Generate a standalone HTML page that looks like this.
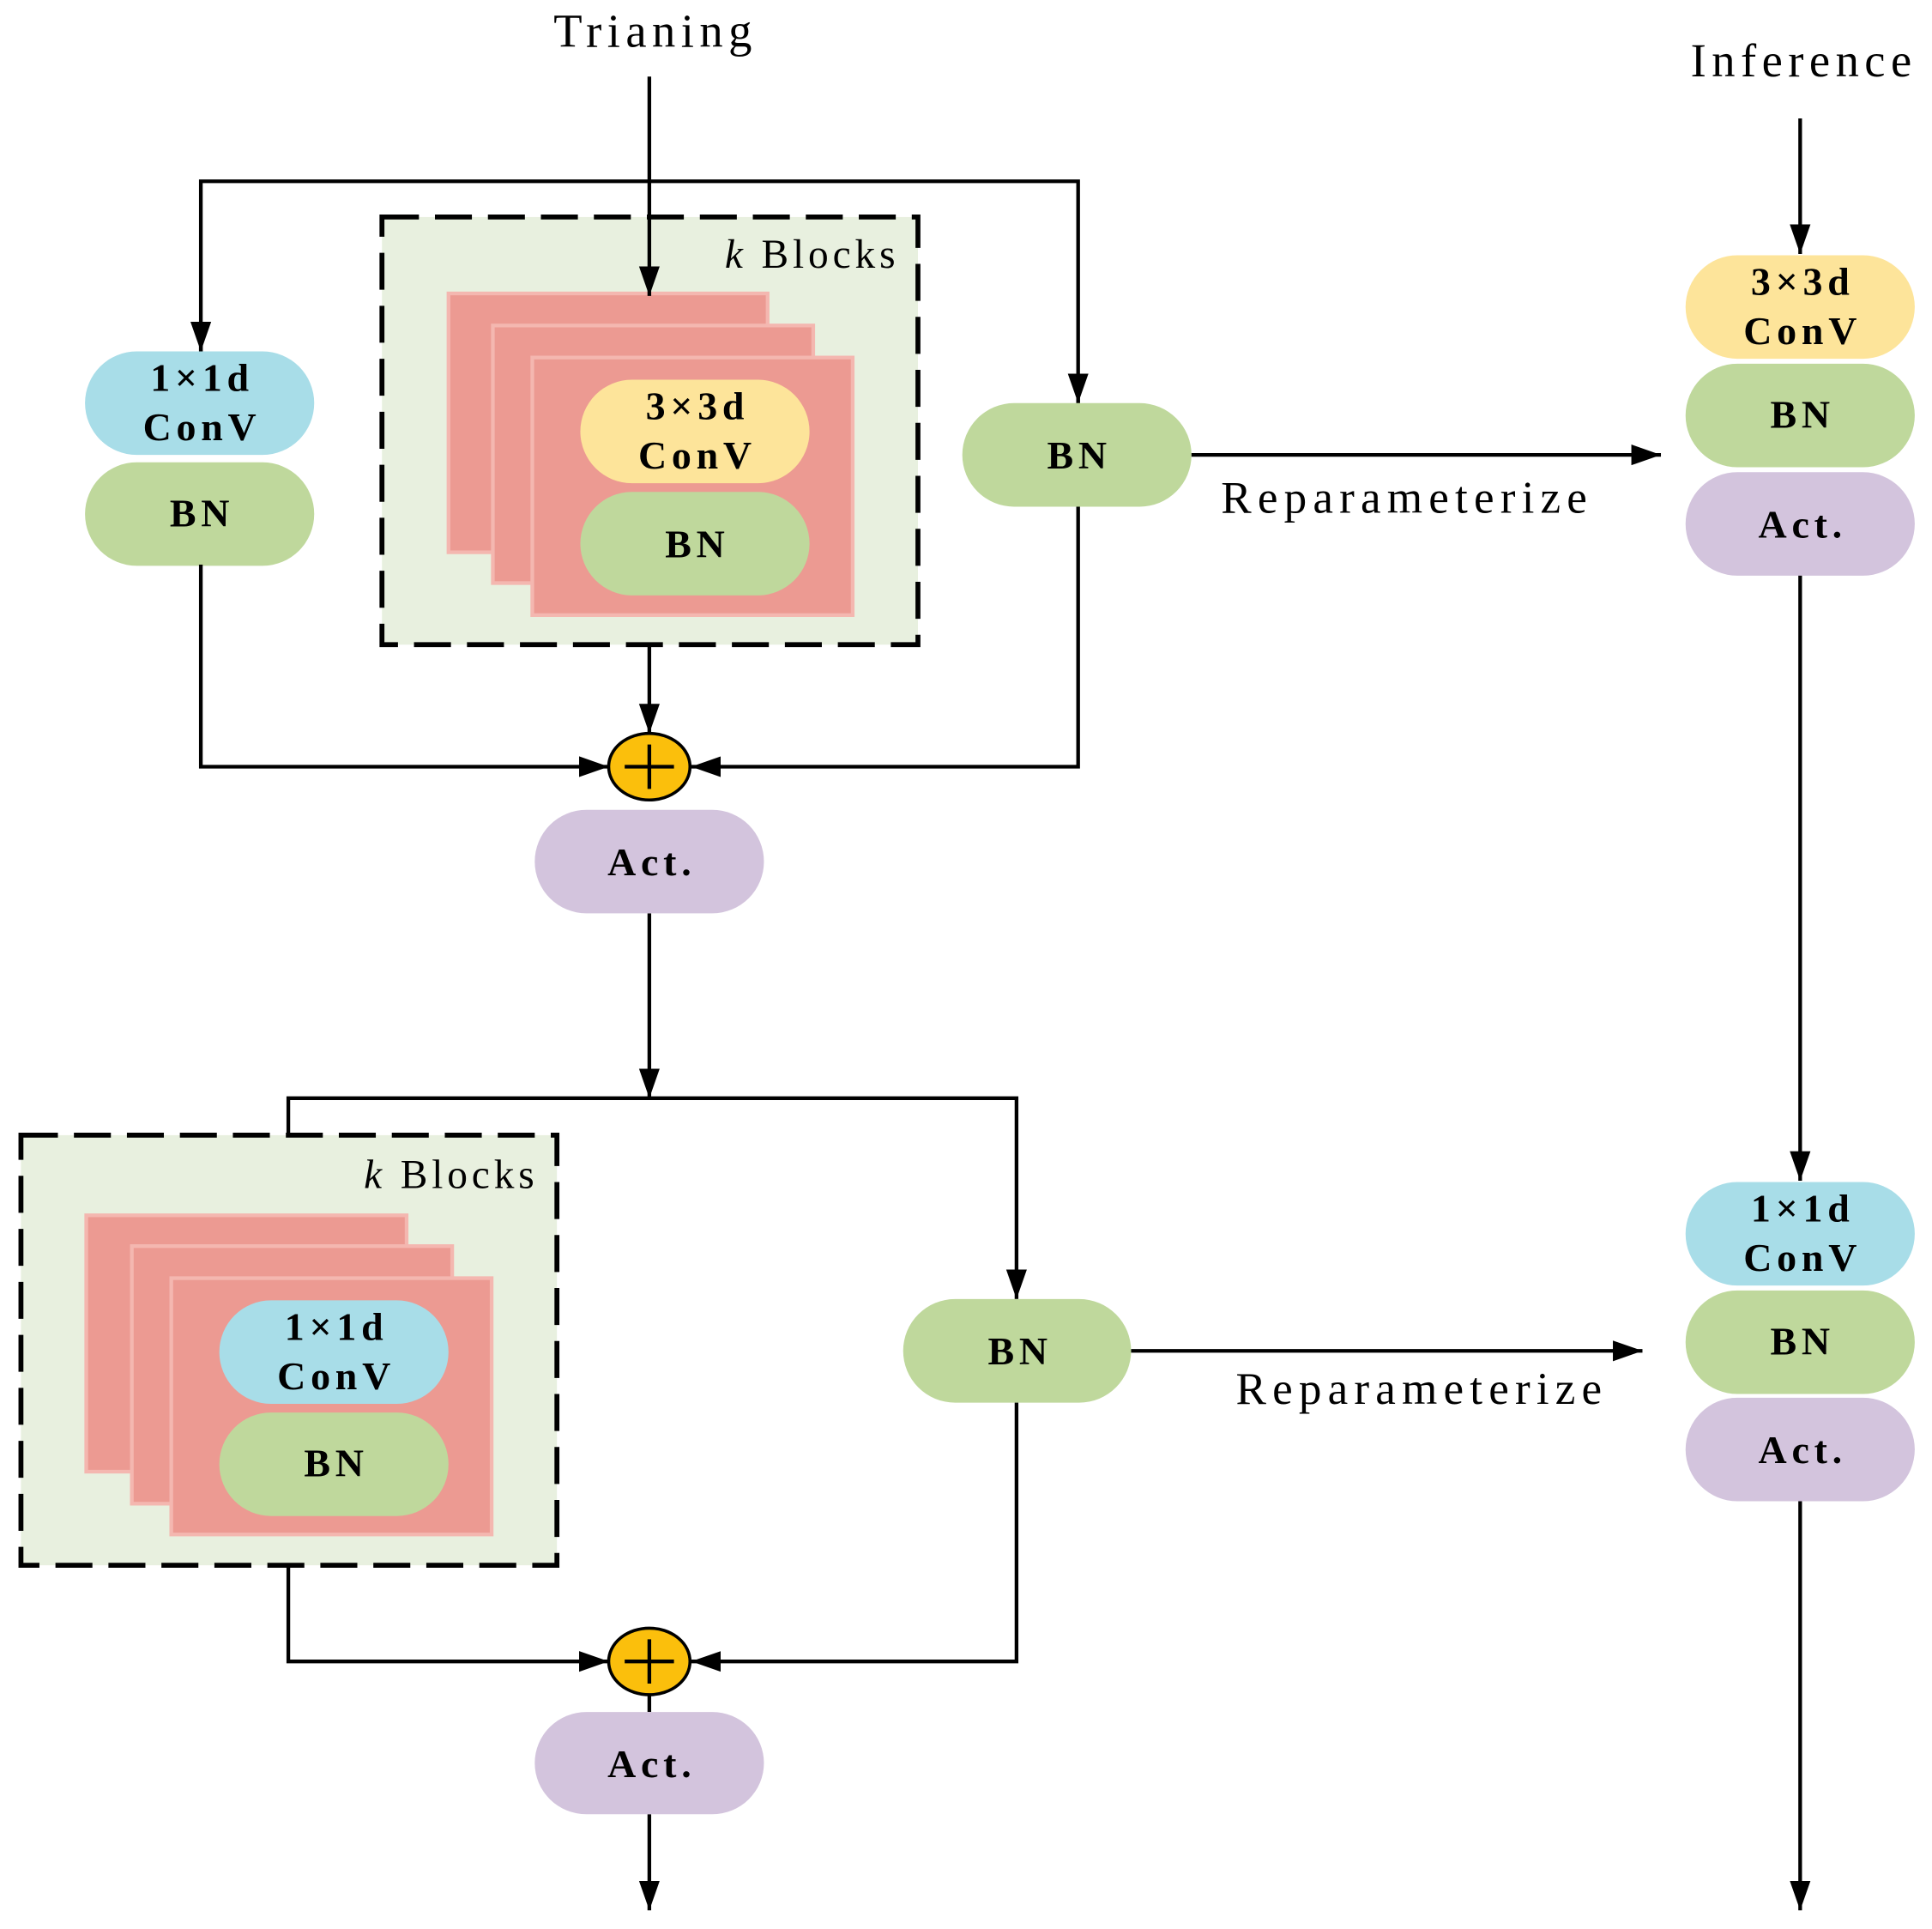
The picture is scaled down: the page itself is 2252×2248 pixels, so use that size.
<!DOCTYPE html>
<html><head><meta charset="utf-8"><style>
html,body{margin:0;padding:0;background:#fff;}
svg{display:block;}
text{font-family:"Liberation Serif",serif;}
.b{font-weight:bold;font-size:32px;text-anchor:middle;letter-spacing:4px;}
.r{font-size:37px;text-anchor:middle;letter-spacing:5px;}
.t{font-size:38px;text-anchor:middle;letter-spacing:4.5px;}
.k{font-size:33px;text-anchor:end;letter-spacing:3.4px;}
</style></head><body>
<svg width="2252" height="2248" viewBox="0 0 1568 1565" xmlns="http://www.w3.org/2000/svg">
<defs>
<marker id="ah" viewBox="0 0 10 10" refX="10" refY="5" markerWidth="24" markerHeight="24" markerUnits="userSpaceOnUse" orient="auto">
<path d="M0,1.5 L10,5 L0,8.5 z" fill="#000"/></marker>
</defs>
<g stroke="#000" stroke-width="3" fill="none">
<path d="M163,285 V147 H875 V327" />
<path d="M163,265 V285" marker-end="url(#ah)"/>
<path d="M875,305 V327" marker-end="url(#ah)"/>
</g>
<!-- dashed box 1 -->
<rect x="310" y="176" width="435" height="347" fill="#e8f0df" stroke="#000" stroke-width="4" stroke-dasharray="30 13"/>
<text class="k" x="730" y="217"><tspan font-style="italic">k</tspan> Blocks</text>
<g fill="#ec9a92" stroke="#f4b7b0" stroke-width="3">
<rect x="364" y="238" width="259" height="210"/>
<rect x="400" y="264" width="260" height="209"/>
<rect x="432" y="290" width="260" height="209"/>
</g>
<path d="M527,62 V240" stroke="#000" stroke-width="3" fill="none" marker-end="url(#ah)"/>
<rect x="471" y="308" width="186" height="84" rx="42" fill="#fde49a"/>
<text class="b" x="566" y="340">3×3d</text><text class="b" x="566" y="380">ConV</text>
<rect x="471" y="399" width="186" height="84" rx="42" fill="#bfd89c"/>
<text class="b" x="566" y="452">BN</text>
<!-- left pills -->
<rect x="69" y="285" width="186" height="84" rx="42" fill="#a8dde8"/>
<text class="b" x="164" y="317">1×1d</text><text class="b" x="164" y="357">ConV</text>
<rect x="69" y="375" width="186" height="84" rx="42" fill="#bfd89c"/>
<text class="b" x="164" y="427">BN</text>
<rect x="781" y="327" width="186" height="84" rx="42" fill="#bfd89c"/>
<text class="b" x="876" y="380">BN</text>
<g stroke="#000" stroke-width="3" fill="none">
<path d="M967,369 H1348" marker-end="url(#ah)"/>
<path d="M163,458 V622 H494" marker-end="url(#ah)"/>
<path d="M527,523 V595" marker-end="url(#ah)"/>
<path d="M875,411 V622 H561" marker-end="url(#ah)"/>
<path d="M527,741 V891" marker-end="url(#ah)"/>
<path d="M234,921 V891 H825 V1054" marker-end="url(#ah)"/>
</g>
<text class="r" x="1142" y="416">Reparameterize</text>
<ellipse cx="527" cy="622" rx="33" ry="27" fill="#fbbf0c" stroke="#000" stroke-width="2.5"/>
<path d="M507,622 H547 M527,604 V640" stroke="#000" stroke-width="3"/>
<rect x="434" y="657" width="186" height="84" rx="42" fill="#d3c4dd"/>
<text class="b" x="529" y="710">Act.</text>
<!-- dashed box 2 -->
<rect x="17" y="921" width="435" height="349" fill="#e8f0df" stroke="#000" stroke-width="4" stroke-dasharray="30 13"/>
<text class="k" x="437" y="964"><tspan font-style="italic">k</tspan> Blocks</text>
<g fill="#ec9a92" stroke="#f4b7b0" stroke-width="3">
<rect x="70" y="986" width="260" height="208"/>
<rect x="107" y="1011" width="260" height="209"/>
<rect x="139" y="1037" width="260" height="208"/>
</g>
<rect x="178" y="1055" width="186" height="84" rx="42" fill="#a8dde8"/>
<text class="b" x="273" y="1087">1×1d</text><text class="b" x="273" y="1127">ConV</text>
<rect x="178" y="1146" width="186" height="84" rx="42" fill="#bfd89c"/>
<text class="b" x="273" y="1198">BN</text>
<rect x="733" y="1054" width="185" height="84" rx="42" fill="#bfd89c"/>
<text class="b" x="828" y="1107">BN</text>
<g stroke="#000" stroke-width="3" fill="none">
<path d="M918,1096 H1333" marker-end="url(#ah)"/>
<path d="M234,1270 V1348 H494" marker-end="url(#ah)"/>
<path d="M825,1138 V1348 H561" marker-end="url(#ah)"/>
<path d="M527,1375 V1389"/>
<path d="M527,1472 V1550" marker-end="url(#ah)"/>
</g>
<text class="r" x="1154" y="1139">Reparameterize</text>
<ellipse cx="527" cy="1348" rx="33" ry="27" fill="#fbbf0c" stroke="#000" stroke-width="2.5"/>
<path d="M507,1348 H547 M527,1330 V1366" stroke="#000" stroke-width="3"/>
<rect x="434" y="1389" width="186" height="83" rx="42" fill="#d3c4dd"/>
<text class="b" x="529" y="1442">Act.</text>
<!-- titles -->
<text class="t" x="532" y="38">Trianing</text>
<text class="t" x="1464" y="62">Inference</text>
<!-- inference column -->
<g stroke="#000" stroke-width="3" fill="none">
<path d="M1461,96 V206" marker-end="url(#ah)"/>
<path d="M1461,466 V958" marker-end="url(#ah)"/>
<path d="M1461,1217 V1550" marker-end="url(#ah)"/>
</g>
<rect x="1368" y="207" width="186" height="84" rx="42" fill="#fde49a"/>
<text class="b" x="1463" y="239">3×3d</text><text class="b" x="1463" y="279">ConV</text>
<rect x="1368" y="295" width="186" height="84" rx="42" fill="#bfd89c"/>
<text class="b" x="1463" y="347">BN</text>
<rect x="1368" y="383" width="186" height="84" rx="42" fill="#d3c4dd"/>
<text class="b" x="1463" y="436">Act.</text>
<rect x="1368" y="959" width="186" height="84" rx="42" fill="#a8dde8"/>
<text class="b" x="1463" y="991">1×1d</text><text class="b" x="1463" y="1031">ConV</text>
<rect x="1368" y="1047" width="186" height="84" rx="42" fill="#bfd89c"/>
<text class="b" x="1463" y="1099">BN</text>
<rect x="1368" y="1134" width="186" height="84" rx="42" fill="#d3c4dd"/>
<text class="b" x="1463" y="1187">Act.</text>
</svg>
</body></html>
